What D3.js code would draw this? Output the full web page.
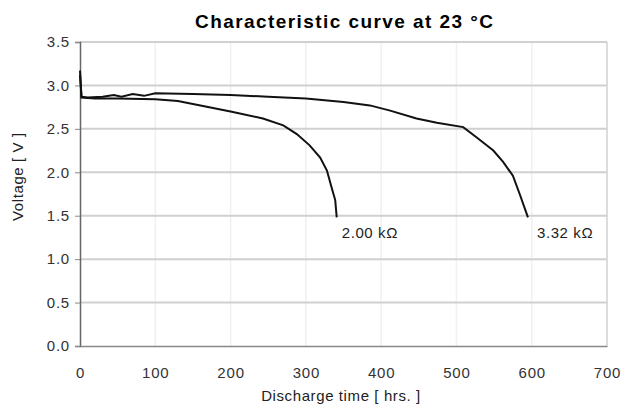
<!DOCTYPE html>
<meta charset="utf-8">
<style>
  body { margin: 0; background: #fff; }
  .tick text { font-family: "Liberation Sans", Arial, sans-serif; font-size: 15px; fill: #333; letter-spacing: 0.8px; }
  .label { font-family: "Liberation Sans", Arial, sans-serif; font-size: 15px; fill: #222; letter-spacing: 0.6px; }
  .line { fill: none; stroke: #111; stroke-width: 2; }
</style>
<body>
<script src="https://d3js.org/d3.v7.min.js"></script>
<script>
// discharge curves at 23 C (hours, volts)
var hours2k = [0, 2, 20, 50, 100, 130, 160, 200, 243, 270, 288, 305, 319, 328, 334, 339, 341];
var volts2k = [3.12, 2.86, 2.85, 2.85, 2.84, 2.82, 2.77, 2.70, 2.62, 2.54, 2.44, 2.31, 2.17, 2.02, 1.83, 1.68, 1.48];
var hours3k = [0, 2, 10, 30, 45, 55, 70, 85, 100, 150, 200, 250, 300, 350, 385, 412, 447, 474, 509, 527, 549, 562, 575, 584, 595];
var volts3k = [3.17, 2.87, 2.86, 2.87, 2.89, 2.87, 2.90, 2.88, 2.91, 2.9, 2.89, 2.87, 2.85, 2.81, 2.77, 2.71, 2.62, 2.57, 2.52, 2.40, 2.25, 2.12, 1.96, 1.75, 1.48];
var xTicks = [0, 100, 200, 300, 400, 500, 600, 700];
var yTicks = [0, 0.5, 1, 1.5, 2, 2.5, 3, 3.5];
var seriesNames = ["2.00 kΩ", "3.32 kΩ"];

var margin = { top: 42, right: 14, bottom: 61, left: 80 },
  width = 621 - margin.left - margin.right,
  height = 407 - margin.top - margin.bottom;

var x = d3.scaleLinear().domain([0, 700]).range([0, width]);
var y = d3.scaleLinear().domain([0, 3.5]).range([height, 0]);

var root = d3.select("body").append("svg")
  .attr("width", 621).attr("height", 407);
var svg = root.append("g")
  .attr("transform", "translate(" + margin.left + "," + margin.top + ")");

// faint vertical grid
svg.selectAll(".vgrid").data(xTicks.slice(1)).enter().append("line")
  .attr("x1", d => x(d)).attr("x2", d => x(d))
  .attr("y1", 0).attr("y2", height)
  .attr("stroke", "#f0f0f0").attr("stroke-width", 1.5);

// horizontal grid
svg.selectAll(".hgrid").data(yTicks.slice(1)).enter().append("line")
  .attr("x1", 0).attr("x2", width)
  .attr("y1", d => y(d)).attr("y2", d => y(d))
  .attr("stroke", "#d0d0d0").attr("stroke-width", 2);

// right border
svg.append("line")
  .attr("x1", width).attr("x2", width).attr("y1", 0).attr("y2", height)
  .attr("stroke", "#d4d4d4").attr("stroke-width", 1.5);

// y axis
var yAxis = svg.append("g")
  .call(d3.axisLeft(y).tickValues(yTicks).tickFormat(d3.format(".1f")).tickSize(5).tickPadding(5));
yAxis.select(".domain").attr("stroke", "#666").attr("stroke-width", 1.5);
yAxis.selectAll(".tick line").attr("stroke", "#888");

// x axis
var xAxis = svg.append("g")
  .attr("transform", "translate(0," + height + ")")
  .call(d3.axisBottom(x).tickValues(xTicks).tickSize(0).tickPadding(21));
xAxis.select(".domain").attr("stroke", "#888").attr("stroke-width", 1.5);

// curves
var line = d3.line().x(d => x(d[0])).y(d => y(d[1]));
svg.append("path").attr("class", "line")
  .attr("d", line(d3.zip(hours2k, volts2k)));
svg.append("path").attr("class", "line")
  .attr("d", line(d3.zip(hours3k, volts3k)));

// curve labels
svg.append("text").attr("class", "label")
  .attr("x", x(hours2k[hours2k.length - 1]) + 5).attr("y", y(1.5) + 22)
  .text(seriesNames[0]);
svg.append("text").attr("class", "label")
  .attr("x", x(hours3k[hours3k.length - 1]) + 9).attr("y", y(1.5) + 22)
  .text(seriesNames[1]);

// title
root.append("text")
  .attr("x", 195).attr("y", 28)
  .attr("textLength", 298).attr("lengthAdjust", "spacing")
  .style("font-family", "'Liberation Sans', Arial, sans-serif")
  .style("font-size", "19px").style("font-weight", "bold")
  .text("Characteristic curve at 23  °C");

// axis titles
root.append("text").attr("class", "label")
  .attr("x", 341).attr("y", 401)
  .attr("text-anchor", "middle")
  .text("Discharge time [ hrs. ]");
root.append("text").attr("class", "label")
  .attr("transform", "translate(23," + (margin.top + y(1.95)) + ") rotate(-90)")
  .attr("text-anchor", "middle")
  .text("Voltage  [ V ]");
</script>
</body>
